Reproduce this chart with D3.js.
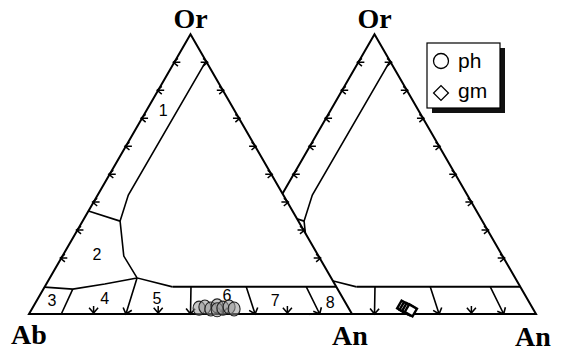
<!DOCTYPE html>
<html>
<head>
<meta charset="utf-8">
<script src="https://cdn.jsdelivr.net/npm/d3@7"></script>
<style>
    body { margin: 0; background: #fff; }
    .edge { fill: none; stroke: #000; stroke-width: 2; stroke-linejoin: miter; }
    .bound { fill: none; stroke: #000; stroke-width: 1.6; }
    .band { fill: none; stroke: #000; stroke-width: 2; }
    .tick { fill: none; stroke: #000; stroke-width: 1.5; }
    .apex { font-family: "Liberation Serif", serif; font-weight: bold; font-size: 28px; }
    .field { font-family: "Liberation Sans", Arial, sans-serif; font-size: 16px; }
    .legend text { font-family: "Liberation Sans", Arial, sans-serif; font-size: 21px; }
</style>
</head>
<body>
<svg id="chart" width="565" height="351"></svg>
<script>
// every point is [An, Or] in percent, Ab is the rest
const orTicks = [90, 80, 70, 60, 50, 40, 30, 20];
const anTicks = [20, 40, 60, 80];

const mainField = [[9.6, 90.4], [9.5, 42.5], [11.6, 33.2], [19.0, 20.7], [27.0, 12.9], [39.6, 9.7], [90.3, 9.7]];
const field1 = [[0, 36.8], [11.6, 33.2]];
const field2 = [[0, 9.6], [9.1, 8.9], [18.1, 10.7], [27.0, 12.9]];
const divider3 = [[9.1, 8.9], [10, 0]];
const dividers = [
    [[27.0, 12.9], [30, 0]],
    [[45.3, 9.7], [50, 0]],
    [[62.4, 9.7], [70, 0]],
    [[81.0, 9.7], [90, 0]]
];

const fieldNames = ["1", "2", "3", "4", "5", "6", "7", "8"];
const fieldSpots = [[5.1, 72.9], [10.3, 21.4], [4.6, 5.0], [20.6, 5.7], [36.8, 5.7], [57.9, 6.8], [73.7, 5.0], [91.1, 4.3]];

const phPoints = [[51.6, 2.1], [53.2, 2.5], [55.4, 1.8], [56.8, 2.9], [57.5, 1.5], [59.0, 2.1], [60.7, 2.5], [62.6, 1.8]];
const gmPoints = [[57.6, 2.6], [58.6, 2.1], [59.6, 1.7], [60.6, 1.3]];
const legendNames = ["ph", "gm"];

const attr = {
    side: 323,
    left: [29, 314],
    right: [213, 314]
};

const xs = d3.scaleLinear().domain([0, 100]).range([0, attr.side]);
const ys = d3.scaleLinear().domain([0, 100]).range([0, -attr.side * Math.sqrt(3) / 2]);
const px = d => xs(d[0] + d[1] / 2);
const py = d => ys(d[1]);
const line = d3.line().x(px).y(py);

const translate = function(a, b) {
    return "translate(" + a + ", " + b + ")";
};

// open arrow head at tip, coming from "from"
const arrow = function(from, tip, size) {
    let a = Math.atan2(tip[1] - from[1], tip[0] - from[0]);
    let w1 = [tip[0] - size * Math.cos(a - 0.7), tip[1] - size * Math.sin(a - 0.7)];
    let w2 = [tip[0] - size * Math.cos(a + 0.7), tip[1] - size * Math.sin(a + 0.7)];
    return "M" + from + "L" + tip + "M" + w1 + "L" + tip + "L" + w2;
};

const drawTriangle = function(g, masked) {
    let corners = [[0, 0], [100, 0], [0, 100]];

    g.append("path")
        .attr("d", line(corners) + "Z")
        .attr("class", "edge")
        .style("fill", masked ? "#fff" : "none");

    g.append("path").attr("d", line(mainField.slice(0, 6))).attr("class", "bound");
    g.append("path").attr("d", line(mainField.slice(5))).attr("class", "band");
    g.append("path").attr("d", line(field1)).attr("class", "bound");
    g.append("path").attr("d", line(field2)).attr("class", "bound");
    g.append("path").attr("d", line(divider3)).attr("class", "bound");

    g.selectAll(".divider")
        .data(dividers)
        .enter()
        .append("path")
        .attr("class", "bound divider")
        .attr("d", d => {
            let p0 = [px(d[0]), py(d[0])];
            let p1 = [px(d[1]), py(d[1])];
            return arrow(p0, p1, 7);
        });

    g.selectAll(".ltick")
        .data(orTicks)
        .enter()
        .append("path")
        .attr("class", "tick ltick")
        .attr("d", o => {
            let t = [px([0, o]) - 1, py([0, o])];
            return arrow([t[0] + 7, t[1]], t, 6);
        });

    g.selectAll(".rtick")
        .data(orTicks)
        .enter()
        .append("path")
        .attr("class", "tick rtick")
        .attr("d", o => {
            let t = [px([100 - o, o]) + 1, py([100 - o, o])];
            return arrow([t[0] - 7, t[1]], t, 6);
        });

    g.selectAll(".btick")
        .data(anTicks)
        .enter()
        .append("path")
        .attr("class", "tick btick")
        .attr("d", a => {
            let t = [px([a, 0]), py([a, 0]) - 1];
            return arrow([t[0], t[1] - 7], t, 7);
        });
};

const svg = d3.select("#chart");

// right diagram first, the left one covers its hidden part
let right = svg.append("g").attr("transform", translate(attr.right[0], attr.right[1]));
drawTriangle(right, false);

right.selectAll(".gm")
    .data(gmPoints)
    .enter()
    .append("path")
    .attr("class", "gm")
    .attr("d", d3.symbol(d3.symbolSquare, 80))
    .attr("transform", d => translate(px(d), py(d)) + " rotate(30)")
    .style("fill", "#fff")
    .style("stroke", "#000")
    .style("stroke-width", 2.4);

let left = svg.append("g").attr("transform", translate(attr.left[0], attr.left[1]));
drawTriangle(left, true);

left.selectAll(".field")
    .data(fieldSpots)
    .enter()
    .append("text")
    .attr("class", "field")
    .attr("x", d => px(d))
    .attr("y", d => py(d))
    .attr("dy", "0.36em")
    .attr("text-anchor", "middle")
    .text((d, i) => fieldNames[i]);

left.selectAll(".ph")
    .data(phPoints)
    .enter()
    .append("ellipse")
    .attr("class", "ph")
    .attr("cx", d => px(d))
    .attr("cy", d => py(d))
    .attr("rx", 6)
    .attr("ry", 7)
    .style("fill", "#999")
    .style("fill-opacity", 0.55)
    .style("stroke", "#222")
    .style("stroke-width", 1.1);

// corner names
[left, right].forEach(function(g) {
    g.append("text")
        .attr("class", "apex")
        .attr("x", px([0, 100]))
        .attr("y", py([0, 100]) - 6)
        .attr("text-anchor", "middle")
        .text("Or");
});

left.append("text")
    .attr("class", "apex")
    .attr("x", px([0, 0]))
    .attr("y", 30)
    .attr("text-anchor", "middle")
    .text("Ab");

left.append("text")
    .attr("class", "apex")
    .attr("x", px([100, 0]) - 2)
    .attr("y", 31)
    .attr("text-anchor", "middle")
    .text("An");

right.append("text")
    .attr("class", "apex")
    .attr("x", px([100, 0]) - 3)
    .attr("y", 32)
    .attr("text-anchor", "middle")
    .text("An");

// legend
let legend = svg.append("g").attr("class", "legend").attr("transform", translate(427, 43));

legend.append("rect")
    .attr("x", 5)
    .attr("y", 5)
    .attr("width", 73)
    .attr("height", 65)
    .style("fill", "#111");

legend.append("rect")
    .attr("width", 73)
    .attr("height", 65)
    .style("fill", "#fff")
    .style("stroke", "#000")
    .style("stroke-width", 1.2);

legend.append("circle")
    .attr("cx", 14)
    .attr("cy", 18)
    .attr("r", 7.5)
    .style("fill", "none")
    .style("stroke", "#000")
    .style("stroke-width", 1.3);

legend.append("path")
    .attr("d", d3.symbol(d3.symbolSquare, 110))
    .attr("transform", translate(14, 50) + " rotate(45)")
    .style("fill", "none")
    .style("stroke", "#000")
    .style("stroke-width", 1.3);

legend.selectAll("text")
    .data(legendNames)
    .enter()
    .append("text")
    .attr("x", 31)
    .attr("y", (d, i) => 25 + i * 30)
    .text(d => d);
</script>
</body>
</html>
